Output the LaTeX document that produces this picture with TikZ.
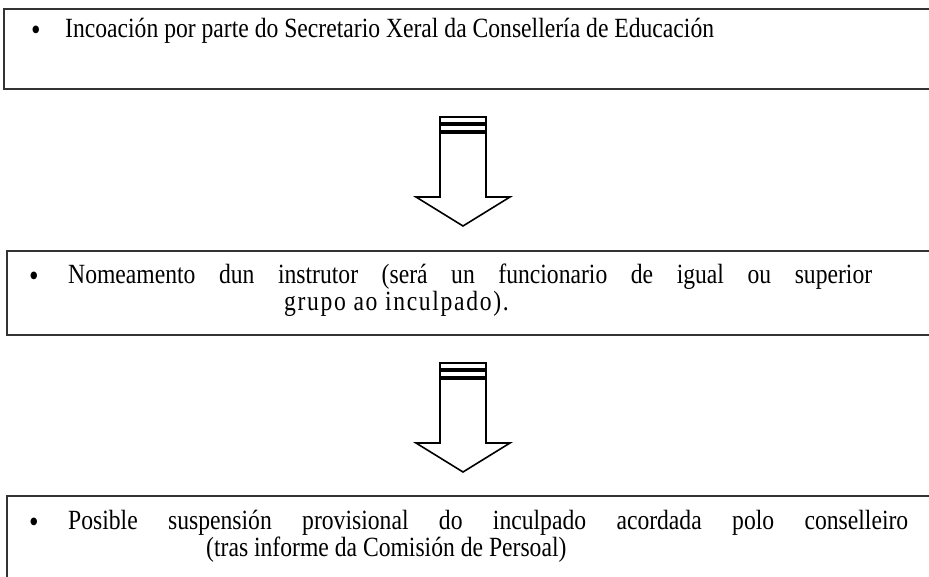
\documentclass[tikz,border=0pt]{standalone}
\usepackage{fontspec}
\setmainfont{Liberation Serif}[FakeStretch=0.85]
\usetikzlibrary{positioning}

\begin{document}
\begin{tikzpicture}[x=1pt, y=1pt,
    stepbox/.style={rectangle, draw=black!80, line width=1.6pt, fill=white, anchor=north west, inner sep=0pt},
    itemtext/.style={anchor=base west, inner sep=0pt, font=\fontsize{27.8}{29}\selectfont},
    bulletmark/.style={anchor=base west, inner sep=0pt, font=\fontsize{32}{32}\selectfont},
    downarrow/.pic={
        \draw[line width=1.1pt] (-23,0) rectangle (23,-6);
        \draw[line width=1.1pt] (-23,-8) rectangle (23,-14);
        \draw[line width=1.6pt, line join=miter] (-23,-16) -- (-23,-80) -- (-47,-80) -- (0,-109)
            -- (47,-80) -- (23,-80) -- (23,-16) -- cycle;
    }
]
    \useasboundingbox (0,0) rectangle (929,576);
    \clip (0,0) rectangle (929,576);

    % Boxes
    \node [stepbox, minimum width=932pt, minimum height=80pt] (incoacion) at (3,568) {};
    \node [stepbox, minimum width=929pt, minimum height=84pt] (nomeamento) at (6,326) {};
    \node [stepbox, minimum width=929pt, minimum height=92pt] (suspension) at (6,81) {};

    % Texts
    \node [bulletmark] (b1) at (31,535) {\textbullet};
    \node [itemtext] (t1) at (65,538) {Incoación por parte do Secretario Xeral da Consellería de Educación};

    \node [bulletmark] (b2) at (29,289) {\textbullet};
    \node [itemtext] (t2a) at (68,292) {\makebox[804pt][s]{Nomeamento dun instrutor (será un funcionario de igual ou superior}};
    \node [itemtext] (t2b) at (284,265) {\addfontfeature{LetterSpace=6}grupo ao inculpado).};

    \node [bulletmark] (b3) at (29,44) {\textbullet};
    \node [itemtext] (t3a) at (68,47) {\makebox[840pt][s]{Posible suspensión provisional do inculpado acordada polo conselleiro}};
    \node [itemtext] (t3b) at (206,20) {(tras informe da Comisión de Persoal)};

    % Arrows
    \coordinate (a1) at (463,459);
    \coordinate (a2) at (463,213);
    \pic at (a1) {downarrow};
    \pic at (a2) {downarrow};
\end{tikzpicture}
\end{document}
